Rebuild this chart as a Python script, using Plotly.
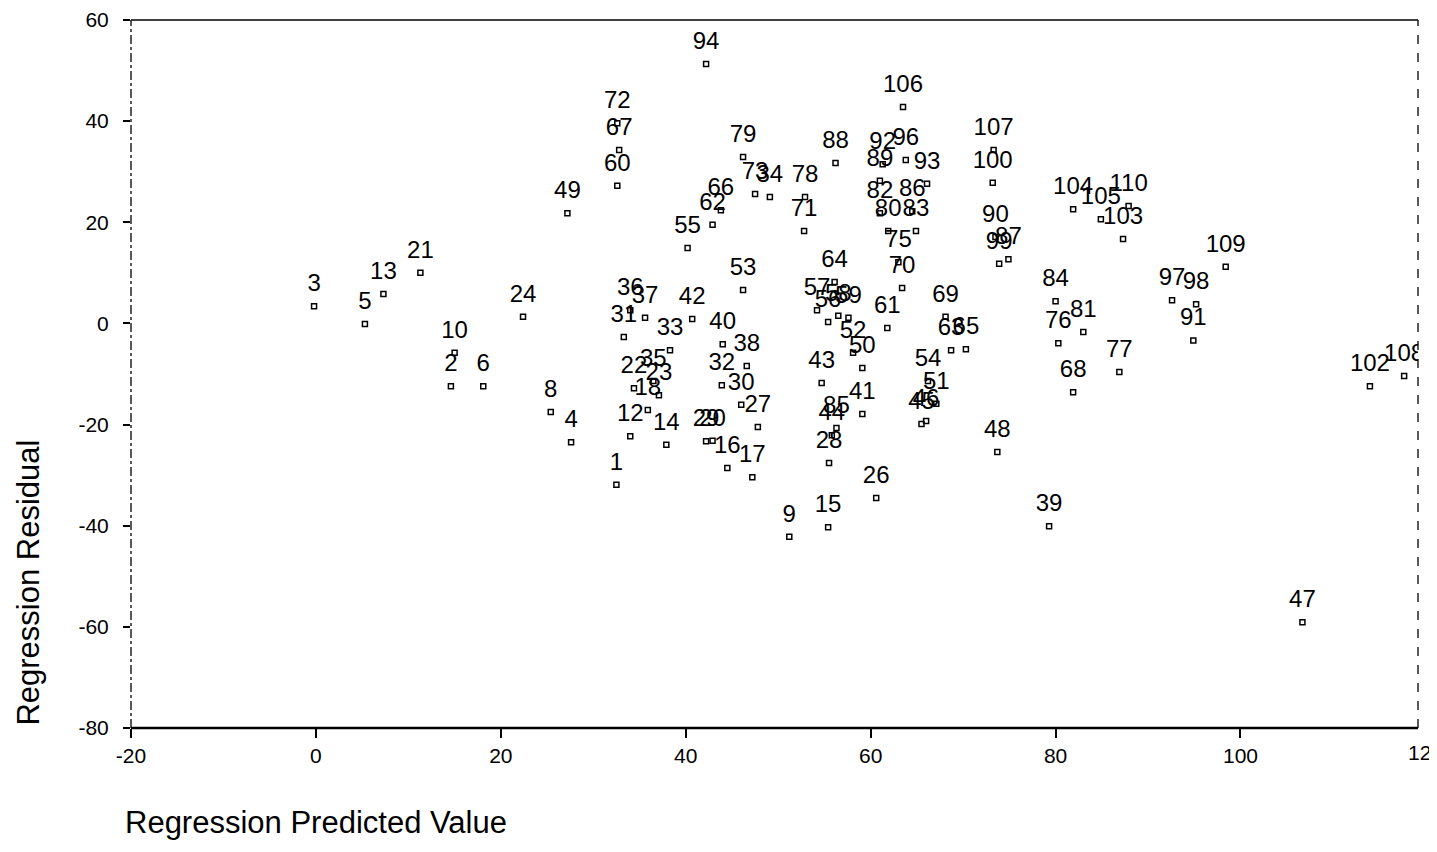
import plotly.graph_objects as go

case_ids = ["1", "2", "3", "4", "5", "6", "8", "9", "10", "12", "13", "14", "15", "16", "17",
            "18", "20", "21", "22", "23", "24", "26", "27", "28", "29", "30", "31", "32", "33",
            "34", "35", "36", "37", "38", "39", "40", "41", "42", "43", "44", "45", "46", "47",
            "48", "49", "50", "51", "52", "53", "54", "55", "56", "57", "58", "59", "60", "61",
            "62", "63", "64", "65", "66", "67", "68", "69", "70", "71", "72", "73", "75", "76",
            "77", "78", "79", "80", "81", "82", "83", "84", "85", "86", "87", "88", "89", "90",
            "91", "92", "93", "94", "96", "97", "98", "99", "100", "102", "103", "104", "105",
            "106", "107", "108", "109", "110"]

predicted = [32.5, 14.6, -0.2, 27.6, 5.3, 18.1, 25.4, 51.2, 15.0, 34.0, 7.3, 37.9, 55.4, 44.5, 47.2,
             35.9, 42.9, 11.3, 34.4, 37.1, 22.4, 60.6, 47.8, 55.5, 42.2, 46.0, 33.3, 43.9, 38.3,
             49.1, 36.5, 34.0, 35.6, 46.6, 79.3, 44.0, 59.1, 40.7, 54.7, 55.8, 65.5, 66.0, 106.7,
             73.7, 27.2, 59.1, 67.1, 58.1, 46.2, 66.2, 40.2, 55.4, 54.2, 56.5, 57.6, 32.6, 61.8,
             42.9, 68.7, 56.1, 70.3, 43.8, 32.8, 81.9, 68.1, 63.4, 52.8, 32.6, 47.5, 63.0, 80.3,
             86.9, 52.9, 46.2, 61.9, 83.0, 61.0, 64.9, 80.0, 56.3, 64.5, 74.9, 56.2, 61.0, 73.5,
             94.9, 61.3, 66.1, 42.2, 63.8, 92.6, 95.2, 73.9, 73.2, 114.0, 87.3, 81.9, 84.9,
             63.5, 73.3, 117.7, 98.4, 87.9]

residual = [-31.9, -12.4, 3.4, -23.5, -0.1, -12.4, -17.5, -42.2, -5.8, -22.3, 5.8, -24.0, -40.3, -28.6, -30.4,
            -17.1, -23.2, 10.0, -12.8, -14.2, 1.3, -34.5, -20.5, -27.6, -23.3, -16.1, -2.7, -12.2, -5.3,
            25.0, -11.4, 2.6, 1.1, -8.4, -40.1, -4.1, -17.9, 0.9, -11.8, -22.1, -19.9, -19.3, -59.1,
            -25.4, 21.8, -8.8, -15.9, -5.8, 6.6, -11.4, 14.9, 0.3, 2.6, 1.5, 1.1, 27.2, -0.9,
            19.5, -5.3, 8.2, -5.1, 22.4, 34.3, -13.6, 1.3, 7.0, 18.3, 39.6, 25.6, 12.1, -3.9,
            -9.6, 25.0, 32.9, 18.3, -1.7, 21.8, 18.3, 4.4, -20.7, 22.2, 12.7, 31.7, 28.2, 17.1,
            -3.4, 31.5, 27.6, 51.3, 32.3, 4.6, 3.8, 11.8, 27.8, -12.4, 16.7, 22.6, 20.6,
            42.8, 34.3, -10.4, 11.2, 23.2]

x_ticks = [-20, 0, 20, 40, 60, 80, 100, 120]
y_ticks = [-80, -60, -40, -20, 0, 20, 40, 60]

FONT = "Liberation Sans, Arial, sans-serif"

fig = go.Figure()

# small open square markers
fig.add_trace(go.Scatter(
    x=predicted, y=residual, mode="markers",
    marker=dict(symbol="square-open", size=5, color="black", line=dict(width=1.5, color="black")),
    hoverinfo="skip", showlegend=False, cliponaxis=True,
))

# case-number labels above each point (invisible larger marker sets the offset)
fig.add_trace(go.Scatter(
    x=predicted, y=residual, mode="markers+text", text=case_ids,
    textposition="top center",
    textfont=dict(family=FONT, size=24, color="black"),
    marker=dict(size=13, color="rgba(0,0,0,0)"),
    hoverinfo="skip", showlegend=False, cliponaxis=True,
))

fig.update_xaxes(
    range=[-20, 119.2], tickvals=x_ticks, ticktext=[str(v) for v in x_ticks],
    showgrid=False, zeroline=False, showline=False, automargin=False,
    ticks="outside", ticklen=9, tickwidth=1.5, tickcolor="black",
    ticklabeloverflow="allow",
    tickfont=dict(family=FONT, size=21, color="black"),
)
fig.update_yaxes(
    range=[-80, 60], tickvals=y_ticks, ticktext=[str(v) for v in y_ticks],
    showgrid=False, zeroline=False, showline=False, automargin=False,
    ticks="outside", ticklen=7, tickwidth=1.5, tickcolor="black",
    ticklabelstandoff=10, ticklabeloverflow="allow",
    tickfont=dict(family=FONT, size=21, color="black"),
)

shapes = [
    dict(type="line", xref="paper", yref="paper", x0=0, x1=1, y0=1, y1=1,
         line=dict(color="black", width=1.5)),
    dict(type="line", xref="paper", yref="paper", x0=0, x1=1, y0=0, y1=0,
         line=dict(color="black", width=2.5)),
    dict(type="line", xref="paper", yref="paper", x0=0, x1=0, y0=0, y1=1,
         line=dict(color="black", width=1.3, dash="dashdot")),
    dict(type="line", xref="paper", yref="paper", x0=1, x1=1, y0=0, y1=1,
         line=dict(color="black", width=1.3, dash="dash")),
]

# paper position of the last tick (120), just outside the plotted frame
x_last_paper = (x_ticks[-1] - (-20)) / (119.2 - (-20))

annotations = [
    dict(text="Regression Predicted Value", xref="paper", yref="paper",
         x=-0.006, y=-0.134, xanchor="left", yanchor="middle", showarrow=False,
         font=dict(family=FONT, size=31, color="black")),
    dict(text="Regression Residual", xref="paper", yref="paper",
         x=-0.0797, y=0.206, xanchor="center", yanchor="middle", textangle=-90,
         showarrow=False,
         font=dict(family=FONT, size=31, color="black")),
    dict(text=str(x_ticks[-1]), xref="paper", x=x_last_paper, yref="paper", y=0,
         xanchor="center", yanchor="top", yshift=-11, showarrow=False,
         font=dict(family=FONT, size=21, color="black")),
]

fig.update_layout(
    width=1421, height=836,
    margin=dict(l=123, r=11, t=12, b=116),
    paper_bgcolor="white", plot_bgcolor="white",
    shapes=shapes, annotations=annotations,
    showlegend=False,
)

fig.write_html("out.html")
